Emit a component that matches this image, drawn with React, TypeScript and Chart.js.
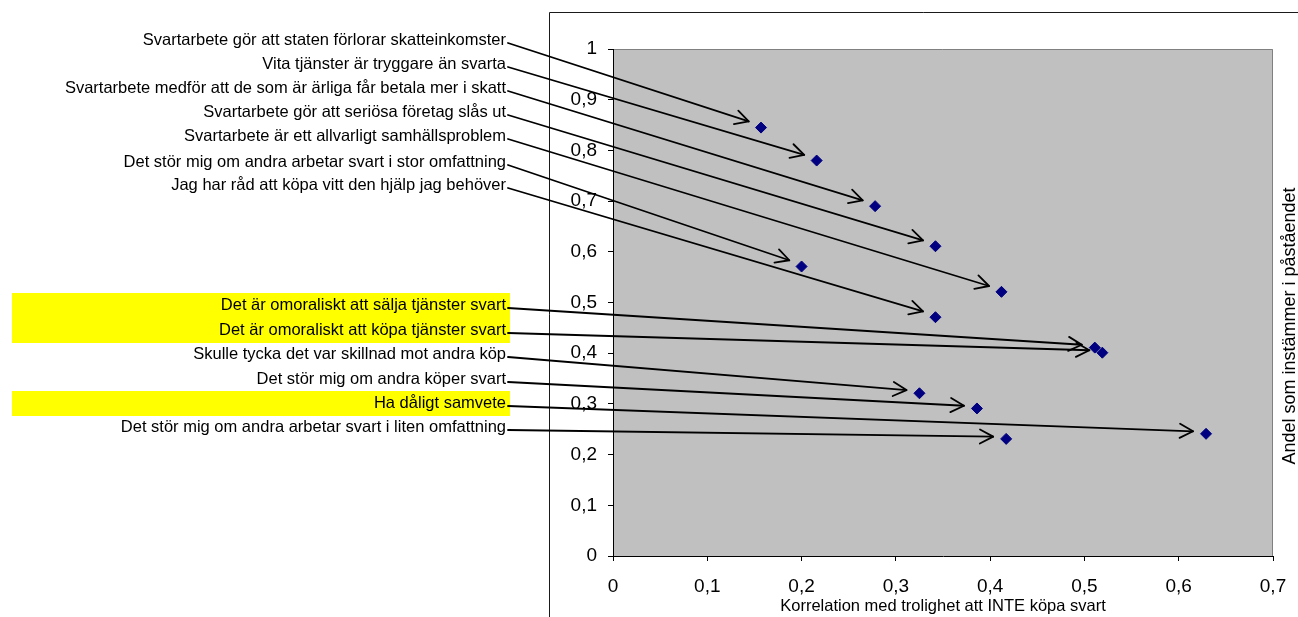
import React, { useEffect, useRef } from 'react';
import { Chart, registerables } from 'chart.js';

Chart.register(...registerables);

// ---------- data ----------
const statements: string[] = [
  'Svartarbete gör att staten förlorar skatteinkomster',
  'Vita tjänster är tryggare än svarta',
  'Svartarbete medför att de som är ärliga får betala mer i skatt',
  'Svartarbete gör att seriösa företag slås ut',
  'Svartarbete är ett allvarligt samhällsproblem',
  'Det stör mig om andra arbetar svart i stor omfattning',
  'Jag har råd att köpa vitt den hjälp jag behöver',
  'Det är omoraliskt att sälja tjänster svart',
  'Det är omoraliskt att köpa tjänster svart',
  'Skulle tycka det var skillnad mot andra köp',
  'Det stör mig om andra köper svart',
  'Ha dåligt samvete',
  'Det stör mig om andra arbetar svart i liten omfattning',
];
const correlation: number[] = [0.157, 0.216, 0.278, 0.342, 0.412, 0.2, 0.342, 0.511, 0.519, 0.325, 0.386, 0.629, 0.417];
const shareAgree: number[] = [0.845, 0.78, 0.69, 0.611, 0.521, 0.571, 0.471, 0.411, 0.401, 0.321, 0.291, 0.241, 0.231];
const highlighted: boolean[] = [false, false, false, false, false, false, false, true, true, false, false, true, false];
const xTickLabels: string[] = ['0', '0,1', '0,2', '0,3', '0,4', '0,5', '0,6', '0,7'];
const yTickLabels: string[] = ['0', '0,1', '0,2', '0,3', '0,4', '0,5', '0,6', '0,7', '0,8', '0,9', '1'];
const xTitle = 'Korrelation med trolighet att INTE köpa svart';
const yTitle = 'Andel som instämmer i påståendet';

// ---------- layout / style ----------
const W = 1298;
const H = 617;
const FONT = '"Liberation Sans", Arial, sans-serif';
const LABEL_RIGHT = 506;
const LINE_START_X = 508;
const LABEL_ROWS = [40, 64, 88, 112, 136, 162, 185, 305, 330, 354, 379, 403, 427];
const ARROW_GAP = 13;
const HEAD_LEN = 15;
const HEAD_ANGLE = (28 * Math.PI) / 180;

const annotationPlugin = {
  id: 'annotationPlugin',
  beforeDraw(chart: any) {
    const ctx = chart.ctx;
    const a = chart.chartArea;
    ctx.save();
    // outer chart frame
    ctx.strokeStyle = '#1a1a1a';
    ctx.lineWidth = 1;
    ctx.beginPath();
    ctx.moveTo(549.5, H);
    ctx.lineTo(549.5, 12.5);
    ctx.lineTo(W, 12.5);
    ctx.stroke();
    // yellow highlights behind labels
    ctx.fillStyle = '#FFFF00';
    LABEL_ROWS.forEach((y, i) => {
      if (highlighted[i]) ctx.fillRect(12, Math.round(y - 12.5), 498, 25);
    });
    // plot area
    ctx.fillStyle = '#C0C0C0';
    ctx.fillRect(a.left, a.top, a.right - a.left, a.bottom - a.top);
    ctx.strokeStyle = '#808080';
    ctx.beginPath();
    ctx.moveTo(a.left, a.top + 0.5);
    ctx.lineTo(a.right - 0.5, a.top + 0.5);
    ctx.lineTo(a.right - 0.5, a.bottom);
    ctx.stroke();
    ctx.restore();
  },
  afterDatasetsDraw(chart: any) {
    const ctx = chart.ctx;
    const xs = chart.scales.x;
    const ys = chart.scales.y;
    ctx.save();
    ctx.font = `16.5px ${FONT}`;
    ctx.fillStyle = '#000';
    ctx.textAlign = 'right';
    ctx.textBaseline = 'middle';
    ctx.strokeStyle = '#000';
    ctx.lineWidth = 1.8;
    ctx.lineCap = 'round';
    ctx.lineJoin = 'round';
    statements.forEach((s, i) => {
      const ly = LABEL_ROWS[i];
      ctx.fillText(s, LABEL_RIGHT, ly);
      const sx = LINE_START_X;
      const sy = ly + 3;
      const px = xs.getPixelForValue(correlation[i]);
      const py = ys.getPixelForValue(shareAgree[i]);
      const dx = px - sx;
      const dy = py - sy;
      const len = Math.hypot(dx, dy);
      const ux = dx / len;
      const uy = dy / len;
      const tx = px - ux * ARROW_GAP;
      const ty = py - uy * ARROW_GAP - 2;
      ctx.beginPath();
      ctx.moveTo(sx, sy);
      ctx.lineTo(tx, ty);
      ctx.stroke();
      const ang = Math.atan2(ty - sy, tx - sx) + Math.PI;
      ctx.beginPath();
      ctx.moveTo(tx + HEAD_LEN * Math.cos(ang + HEAD_ANGLE), ty + HEAD_LEN * Math.sin(ang + HEAD_ANGLE));
      ctx.lineTo(tx, ty);
      ctx.lineTo(tx + HEAD_LEN * Math.cos(ang - HEAD_ANGLE), ty + HEAD_LEN * Math.sin(ang - HEAD_ANGLE));
      ctx.stroke();
    });
    // right-side rotated y title
    ctx.font = `18px ${FONT}`;
    ctx.textAlign = 'center';
    ctx.textBaseline = 'middle';
    ctx.translate(1289.7, 326);
    ctx.rotate(-Math.PI / 2);
    ctx.fillText(yTitle, 0, 0);
    ctx.restore();
  },
};

export default function App() {
  const ref = useRef<HTMLCanvasElement | null>(null);
  useEffect(() => {
    if (!ref.current) return;
    const chart = new Chart(ref.current, {
      type: 'scatter',
      data: {
        datasets: [
          {
            data: correlation.map((x, i) => ({ x, y: shareAgree[i] })),
            backgroundColor: '#000080',
            borderColor: '#000080',
            borderWidth: 1,
            pointStyle: 'rectRot',
            pointRadius: 5.5,
            pointHoverRadius: 5.5,
          },
        ],
      },
      options: {
        animation: false,
        responsive: false,
        events: [],
        layout: { padding: { left: 549, top: 49, right: 25, bottom: 0 } },
        plugins: { legend: { display: false }, tooltip: { enabled: false } },
        scales: {
          x: {
            type: 'linear',
            min: 0,
            max: 0.7,
            afterFit: (s: any) => {
              s.height = 61;
              s.paddingLeft = 0;
              s.paddingRight = 0;
            },
            afterBuildTicks: (s: any) => {
              s.ticks = xTickLabels.map((_, i) => ({ value: i / 10 }));
            },
            ticks: {
              color: '#000',
              font: { family: FONT, size: 19 },
              padding: 14,
              maxRotation: 0,
              autoSkip: false,
              callback: (_v: any, i: number) => xTickLabels[i],
            },
            grid: { drawOnChartArea: false, drawTicks: true, tickLength: 5, color: '#000' },
            border: { display: true, color: '#000', width: 1 },
            title: {
              display: true,
              text: xTitle,
              color: '#000',
              font: { family: FONT, size: 16.5 },
              padding: { top: 0, bottom: 1 },
            },
          },
          y: {
            type: 'linear',
            min: 0,
            max: 1,
            afterFit: (s: any) => {
              s.width = 64;
            },
            afterBuildTicks: (s: any) => {
              s.ticks = yTickLabels.map((_, i) => ({ value: i / 10 }));
            },
            ticks: {
              color: '#000',
              font: { family: FONT, size: 19 },
              padding: 11,
              autoSkip: false,
              callback: (_v: any, i: number) => yTickLabels[i],
            },
            grid: { drawOnChartArea: false, drawTicks: true, tickLength: 5, color: '#000' },
            border: { display: true, color: '#000', width: 1 },
          },
        },
      },
      plugins: [annotationPlugin],
    });
    return () => chart.destroy();
  }, []);
  return (
    <div style={{ position: 'absolute', left: 0, top: 0, width: W, height: H, background: '#fff' }}>
      <canvas ref={ref} width={W} height={H} style={{ display: 'block' }} />
    </div>
  );
}
